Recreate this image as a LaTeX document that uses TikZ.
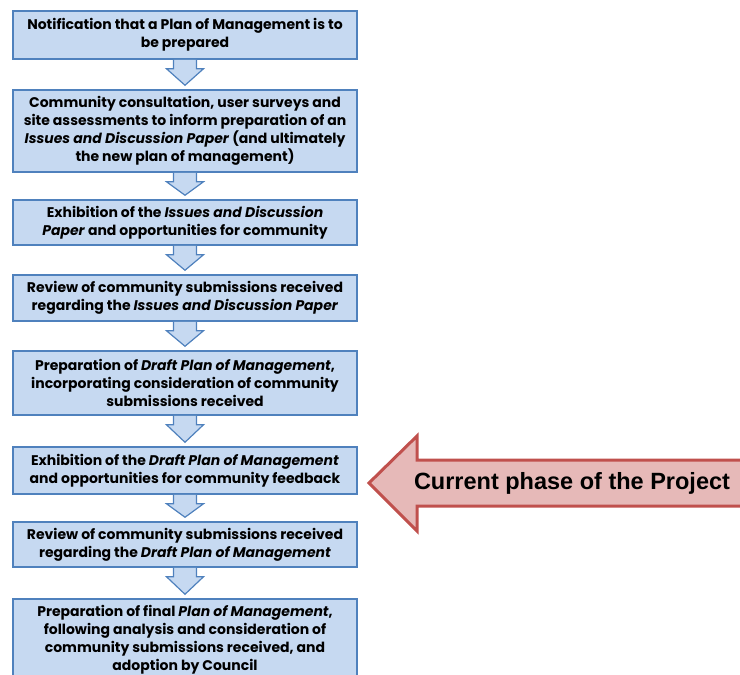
\documentclass[tikz,border=0pt]{standalone}
\usepackage{fontspec}
\setmainfont{Poppins}
\newfontfamily\arialfont{Liberation Sans}
\usetikzlibrary{calc}

\definecolor{boxfill}{RGB}{198,217,241}
\definecolor{boxline}{RGB}{79,129,189}
\definecolor{phasefill}{RGB}{230,185,184}
\definecolor{phaseline}{RGB}{192,80,77}

% hollow block arrow from the bottom of one box to the top of the next
\newcommand{\flowarrow}[2]{%
  \draw[downarrow] let \p1=(#1.south), \p2=(#2.north) in
    ({\x1-11.5pt},\y1) -- ({\x1-11.5pt},{\y1-9pt}) -- ({\x1-18.5pt},{\y1-9pt})
    -- (\x1,{\y2+4pt}) -- ({\x1+18.5pt},{\y1-9pt}) -- ({\x1+11.5pt},{\y1-9pt})
    -- ({\x1+11.5pt},\y1);}

\begin{document}
\begin{tikzpicture}[x=1pt,y=-1pt,
  stepbox/.style={draw=boxline, fill=boxfill, line width=1.5pt, align=center,
    minimum width=344pt, inner sep=0pt, font=\fontsize{14}{18}\selectfont\bfseries},
  downarrow/.style={draw=boxline, fill=boxfill, line width=1.2pt, line join=miter},
  phasearrow/.style={draw=phaseline, fill=phasefill, line width=3pt, line join=miter}]
\useasboundingbox (0,0) rectangle (740,675);

\node[stepbox, minimum height=48pt] (b1) at (185,35) {Notification that a Plan of Management is to\\be prepared};
\node[stepbox, minimum height=82pt] (b2) at (185,131) {Community consultation, user surveys and\\site assessments to inform preparation of an\\\textit{Issues and Discussion Paper} (and ultimately\\the new plan of management)};
\node[stepbox, minimum height=45pt] (b3) at (185,222.5) {Exhibition of the \textit{Issues and Discussion}\\\textit{Paper} and opportunities for community};
\node[stepbox, minimum height=46pt] (b4) at (185,298) {Review of community submissions received\\regarding the \textit{Issues and Discussion Paper}};
\node[stepbox, minimum height=64pt] (b5) at (185,383) {Preparation of \textit{Draft Plan of Management},\\incorporating consideration of community\\submissions received};
\node[stepbox, minimum height=47pt] (b6) at (185,470.5) {Exhibition of the \textit{Draft Plan of Management}\\and opportunities for community feedback};
\node[stepbox, minimum height=45pt] (b7) at (185,544.5) {Review of community submissions received\\regarding the \textit{Draft Plan of Management}};
\node[stepbox, minimum height=81pt] (b8) at (185,639.5) {Preparation of final \textit{Plan of Management},\\following analysis and consideration of\\community submissions received, and\\adoption by Council};

\foreach \a/\b in {b1/b2,b2/b3,b3/b4,b4/b5,b5/b6,b6/b7,b7/b8}
  \flowarrow{\a}{\b};

% pointer to the current phase
\draw[phasearrow] (369,483) -- (417,436) -- (417,460) -- (750,460) -- (750,506)
  -- (417,506) -- (417,531) -- cycle;
\node[font=\arialfont\bfseries\fontsize{23.5}{28}\selectfont] (phase) at (572,483) {Current phase of the Project};
\end{tikzpicture}
\end{document}
